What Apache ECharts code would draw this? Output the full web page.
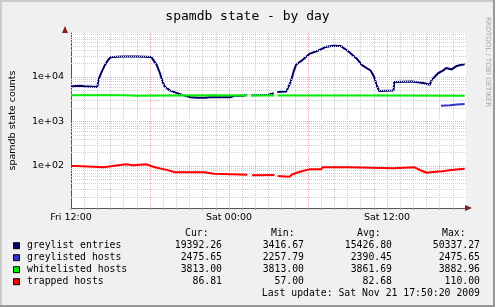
<!DOCTYPE html>
<html>
<head>
<meta charset="utf-8">
<script src="https://cdn.jsdelivr.net/npm/echarts@6.0.0/dist/echarts.min.js"></script>
<style>
  html, body { margin: 0; padding: 0; background: #f0f0f0; }
  #chart { width: 495px; height: 307px; }
</style>
</head>
<body>
<div id="chart"></div>
<script>
// hours after Fri 12:00, value  (null = gap in the rrd data)
const greylistEntries = [
  [0, 6100], [0.6, 6400], [1.0, 6200], [2.0, 6000], [2.1, 9000], [2.33, 13000],
  [2.57, 18500], [2.83, 24500], [3.0, 27700], [3.5, 28500], [4.1, 29000], [5.0, 28800],
  [5.6, 28500], [6.1, 28000], [6.5, 19000], [6.75, 12300], [6.95, 8000], [7.1, 6200],
  [7.5, 5000], [8.0, 4400], [8.4, 4000], [9.1, 3500], [9.6, 3420], [10.25, 3420],
  [10.5, 3500], [12.1, 3500], [12.4, 3800], [13.1, 3800], [13.35, 4000], [13.5, null],
  [13.7, 3900], [15.0, 4000], [15.4, 4300], [15.55, null], [15.67, 4600], [16.35, 4700],
  [16.5, 5100], [16.7, 8000], [16.9, 13000], [17.1, 18900], [17.6, 24500], [18.1, 33000],
  [18.75, 39000], [19.1, 43300], [19.35, 47500], [19.9, 50300], [20.5, 49500], [21.1, 37000],
  [21.75, 25000], [22.1, 18500], [22.75, 14000], [23.0, 10400], [23.25, 6200], [23.4, 4850],
  [24.5, 5000], [24.55, 7700], [25.9, 7900], [26.75, 7300], [27.25, 6700], [27.4, 8600],
  [27.9, 12300], [28.25, 13900], [28.5, 15900], [28.9, 14800], [29.25, 17400], [29.5, 18300],
  [29.9, 19392]
];
const greylistedHosts = [[28.1, 2260], [28.8, 2330], [29.3, 2420], [29.9, 2475]];
const whitelistedHosts = [
  [0, 3880], [4.0, 3880], [4.05, 3813], [5.0, 3813], [5.05, 3880], [11.0, 3880],
  [11.1, 3850], [13.4, 3850], [13.5, null], [13.65, 3850], [15.45, 3860], [15.55, null],
  [15.7, 3860], [22.0, 3860], [22.1, 3813], [29.9, 3813]
];
const trappedHosts = [
  [0, 100], [0.4, 100], [0.45, 93.5], [2.5, 93.5], [2.6, 101.6], [3.3, 101.6], [3.45, 109],
  [4.2, 109], [4.3, 103.6], [4.7, 103.6], [4.8, 109], [5.75, 109], [5.9, 103.6], [6.25, 96.5],
  [6.6, 90], [7.1, 84], [7.6, 77], [7.9, 72], [10.1, 72], [10.25, 67], [10.85, 67], [11.0, 64],
  [13.4, 64], [13.5, null], [13.75, 61.7], [15.45, 62.8], [15.55, null], [15.7, 59.6],
  [16.6, 57], [16.75, 63.8], [17.1, 69.6], [17.6, 77], [18.1, 84], [19.0, 84], [19.1, 93.5],
  [21.1, 93.5], [21.25, 88.7], [24.5, 88.7], [24.6, 93.5], [26.1, 93.5], [26.5, 81.3],
  [27.0, 70.7], [27.5, 73], [27.6, 76], [28.2, 76], [28.3, 81], [28.9, 81], [29.0, 85.6],
  [29.7, 85.6], [29.9, 86.81]
];

const xLabelHours = [0, 12, 24];
const xLabelTexts = ['Fri 12:00', 'Sat 00:00', 'Sat 12:00'];
const decades = [100, 1000, 10000];
const decadeLabels = ['1e+02', '1e+03', '1e+04'];

const legendNames = ['greylist entries', 'greylisted hosts', 'whitelisted hosts', 'trapped hosts'];
const curVals = ['19392.26', '2475.65', '3813.00', '86.81'];
const minVals = ['3416.67', '2257.79', '3813.00', '57.00'];
const avgVals = ['15426.80', '2390.45', '3861.69', '82.68'];
const maxVals = ['50337.27', '2475.65', '3882.96', '110.00'];
const lastUpdate = 'Last update: Sat Nov 21 17:50:20 2009';

const colors = ['#000066', '#3333cc', '#00ee00', '#ff0000'];
const seriesData = [greylistEntries, greylistedHosts, whitelistedHosts, trappedHosts];

const MONO = '"DejaVu Sans Mono", monospace';
const SANS = '"DejaVu Sans", sans-serif';
const gridGray = '#cfcfcf';
const gridPink = '#f3a3a3';

// log minor grid lines 2..9 per decade
const minorLines = [];
for (let d = 10; d <= 10000; d *= 10) {
  for (let k = 2; k <= 9; k++) minorLines.push({ yAxis: k * d });
}

const chart = echarts.init(document.getElementById('chart'));

const graphic = [
  { type: 'rect', shape: { x: 0, y: 0, width: 495, height: 2 }, style: { fill: '#cbcbcb' } },
  { type: 'rect', shape: { x: 0, y: 0, width: 2, height: 307 }, style: { fill: '#cbcbcb' } },
  { type: 'rect', shape: { x: 493, y: 0, width: 2, height: 307 }, style: { fill: '#999999' } },
  { type: 'rect', shape: { x: 0, y: 305, width: 495, height: 2 }, style: { fill: '#999999' } },
  { type: 'polygon', shape: { points: [[62, 33], [65, 26], [68, 33]] }, style: { fill: '#7f1f1f' }, z: 10 },
  { type: 'polygon', shape: { points: [[465, 205], [472, 208], [465, 211]] }, style: { fill: '#7f1f1f' }, z: 10 },
  {
    type: 'text', x: 488, y: 62, rotation: -Math.PI / 2,
    style: { text: 'RRDTOOL / TOBI OETIKER', font: '7px ' + SANS, fill: '#a8a8a8', align: 'center', verticalAlign: 'middle' }
  },
  { type: 'text', x: 185, y: 233.5, style: { text: 'Cur:', font: '9.8px ' + MONO, fill: '#000', verticalAlign: 'middle' } },
  { type: 'text', x: 271, y: 233.5, style: { text: 'Min:', font: '9.8px ' + MONO, fill: '#000', verticalAlign: 'middle' } },
  { type: 'text', x: 357, y: 233.5, style: { text: 'Avg:', font: '9.8px ' + MONO, fill: '#000', verticalAlign: 'middle' } },
  { type: 'text', x: 442, y: 233.5, style: { text: 'Max:', font: '9.8px ' + MONO, fill: '#000', verticalAlign: 'middle' } },
  { type: 'text', x: 480, y: 293.5, style: { text: lastUpdate, font: '9.8px ' + MONO, fill: '#000', align: 'right', verticalAlign: 'middle' } }
];

legendNames.forEach((name, i) => {
  const y = 245.7 + i * 12;
  graphic.push({ type: 'rect', shape: { x: 13.5, y: y - 3, width: 6, height: 6 }, style: { fill: colors[i], stroke: '#000', lineWidth: 1 } });
  graphic.push({ type: 'text', x: 27, y: y, style: { text: name, font: '9.8px ' + MONO, fill: '#000', verticalAlign: 'middle' } });
  [[curVals, 222], [minVals, 304], [avgVals, 392], [maxVals, 480]].forEach(([arr, x]) => {
    graphic.push({ type: 'text', x: x, y: y, style: { text: arr[i], font: '9.8px ' + MONO, fill: '#000', align: 'right', verticalAlign: 'middle' } });
  });
});

const series = [{
  type: 'line', data: [], z: 1, silent: true,
  markLine: {
    silent: true, symbol: 'none', label: { show: false }, animation: false,
    lineStyle: { type: 'dotted', color: gridGray, width: 1 },
    data: minorLines
  }
}];
seriesData.forEach((data, i) => {
  series.push({
    name: legendNames[i], type: 'line', data: data, z: 3 + i,
    showSymbol: false, connectNulls: false,
    lineStyle: { color: colors[i], width: 2 }
  });
});

chart.setOption({
  animation: false,
  backgroundColor: '#f0f0f0',
  title: {
    text: 'spamdb state - by day', left: 'center', top: 5,
    textStyle: { fontFamily: MONO, fontSize: 13, fontWeight: 'normal', color: '#000' }
  },
  grid: { left: 65, right: 29, top: 33, bottom: 99, show: true, backgroundColor: '#ffffff', borderWidth: 0 },
  xAxis: {
    type: 'value', min: 0, max: 30, interval: 1,
    axisLine: { lineStyle: { color: '#555' } },
    axisTick: { show: true, length: 2, lineStyle: { color: '#999' } },
    axisLabel: {
      margin: 5, fontFamily: SANS, fontSize: 9.5, color: '#000', showMaxLabel: false,
      formatter: v => { const k = xLabelHours.indexOf(v); return k >= 0 ? xLabelTexts[k] : ''; }
    },
    splitLine: {
      show: true, showMaxLine: false,
      lineStyle: { type: 'dotted', width: 1, color: [gridPink, gridGray, gridGray, gridGray, gridGray, gridGray] }
    }
  },
  yAxis: {
    type: 'log', logBase: 10, min: 11.38, max: 97500,
    name: 'spamdb state counts', nameLocation: 'middle', nameRotate: 90, nameGap: 53,
    nameTextStyle: { fontFamily: SANS, fontSize: 9.5, color: '#000' },
    axisLine: { show: true, lineStyle: { color: '#555' } },
    axisTick: { show: false },
    axisLabel: {
      margin: 7, fontFamily: SANS, fontSize: 9.5, color: '#000',
      showMinLabel: false, showMaxLabel: false,
      formatter: v => {
        const k = decades.findIndex(d => Math.abs(d - v) / d < 1e-6);
        return k >= 0 ? decadeLabels[k] : '';
      }
    },
    splitLine: {
      show: true, showMinLine: false, showMaxLine: false,
      lineStyle: { type: 'dotted', width: 1, color: gridPink }
    }
  },
  series: series,
  graphic: graphic
});
</script>
</body>
</html>
